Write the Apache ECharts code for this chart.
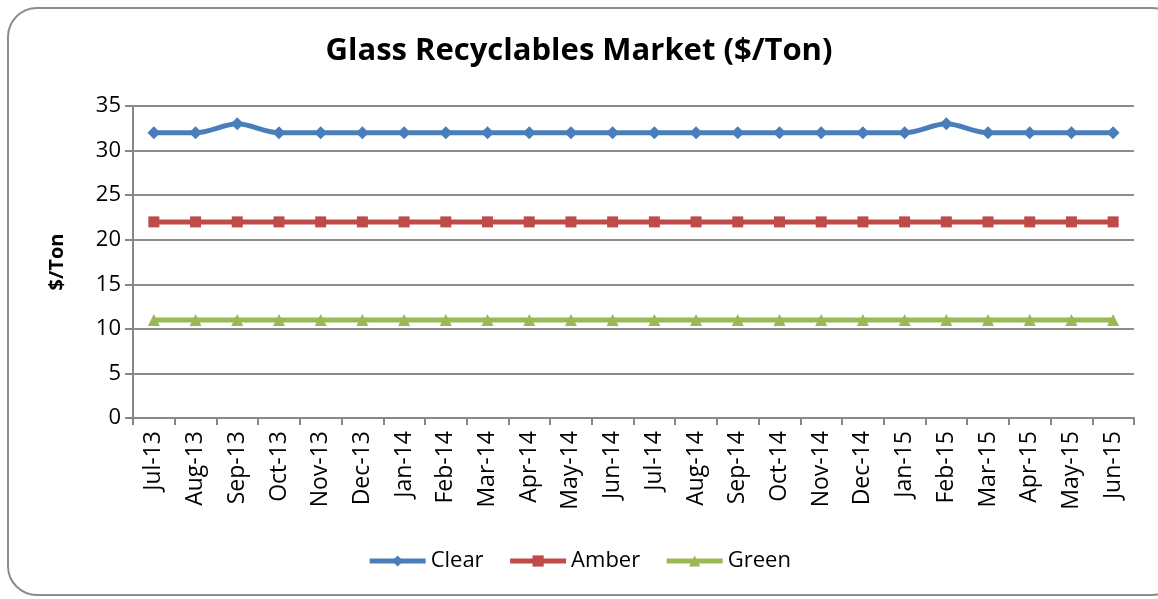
<!DOCTYPE html>
<html><head><meta charset="utf-8">
<script src="https://cdn.jsdelivr.net/npm/echarts@6/dist/echarts.min.js"></script>
<style>html,body{margin:0;padding:0;background:#fff;}#frame{position:absolute;left:7px;top:7px;width:1175px;height:589px;border:2px solid #8c8c8c;border-radius:30px;box-sizing:border-box;}#c{position:absolute;left:0;top:0;width:1158px;height:599px;}</style>
</head><body>
<div id="frame"></div>
<div id="c"></div>
<script>
const categories = ["Jul-13","Aug-13","Sep-13","Oct-13","Nov-13","Dec-13","Jan-14","Feb-14","Mar-14","Apr-14","May-14","Jun-14","Jul-14","Aug-14","Sep-14","Oct-14","Nov-14","Dec-14","Jan-15","Feb-15","Mar-15","Apr-15","May-15","Jun-15"];
const clear = [32,32,33,32,32,32,32,32,32,32,32,32,32,32,32,32,32,32,32,33,32,32,32,32];
const amber = [22,22,22,22,22,22,22,22,22,22,22,22,22,22,22,22,22,22,22,22,22,22,22,22];
const green = [11,11,11,11,11,11,11,11,11,11,11,11,11,11,11,11,11,11,11,11,11,11,11,11];
const seriesNames = ["Clear","Amber","Green"];
const colors = ["#4a7ebb","#be4b48","#98b954"];
const font = "'Open Sans', 'Noto Sans', sans-serif";
const chart = echarts.init(document.getElementById('c'));
chart.setOption({
  animation:false,
  title:{text:"Glass Recyclables Market ($/Ton)",left:'center',top:31,textStyle:{fontFamily:font,fontWeight:'bold',fontSize:31,color:'#000'}},
  legend:{bottom:22,left:'center',itemWidth:56,itemHeight:14,itemGap:24,lineStyle:{width:5},
    textStyle:{fontFamily:font,fontSize:22,color:'#000',padding:[0,0,0,0]},data:seriesNames},
  grid:{left:133,right:24,top:106,bottom:181},
  xAxis:{type:'category',data:categories,boundaryGap:true,
    axisLine:{lineStyle:{color:'#868686',width:2}},
    axisTick:{show:true,length:7,interval:0,lineStyle:{color:'#868686',width:2}},
    axisLabel:{rotate:90,interval:0,fontFamily:font,fontSize:23,color:'#000',margin:13}},
  yAxis:{type:'value',min:0,max:35,interval:5,name:'$/Ton',nameLocation:'middle',nameGap:66,
    nameTextStyle:{fontFamily:font,fontWeight:'bold',fontSize:20,color:'#000'},
    axisLine:{show:true,lineStyle:{color:'#868686',width:2}},
    axisTick:{show:true,length:8,inside:false,lineStyle:{color:'#868686',width:2}},
    axisLabel:{fontFamily:font,fontSize:22,color:'#000',margin:12},
    splitLine:{lineStyle:{color:'#8c8c8c',width:2}}},
  series:[
    {name:'Clear',type:'line',data:clear,smooth:0.3,symbol:'diamond',symbolSize:13,color:colors[0],lineStyle:{width:5,color:colors[0]},itemStyle:{color:colors[0]}},
    {name:'Amber',type:'line',data:amber,symbol:'rect',symbolSize:11,color:colors[1],lineStyle:{width:5,color:colors[1]},itemStyle:{color:colors[1]}},
    {name:'Green',type:'line',data:green,symbol:'triangle',symbolSize:12,color:colors[2],lineStyle:{width:5,color:colors[2]},itemStyle:{color:colors[2]}}
  ]
});
</script>
</body></html>
